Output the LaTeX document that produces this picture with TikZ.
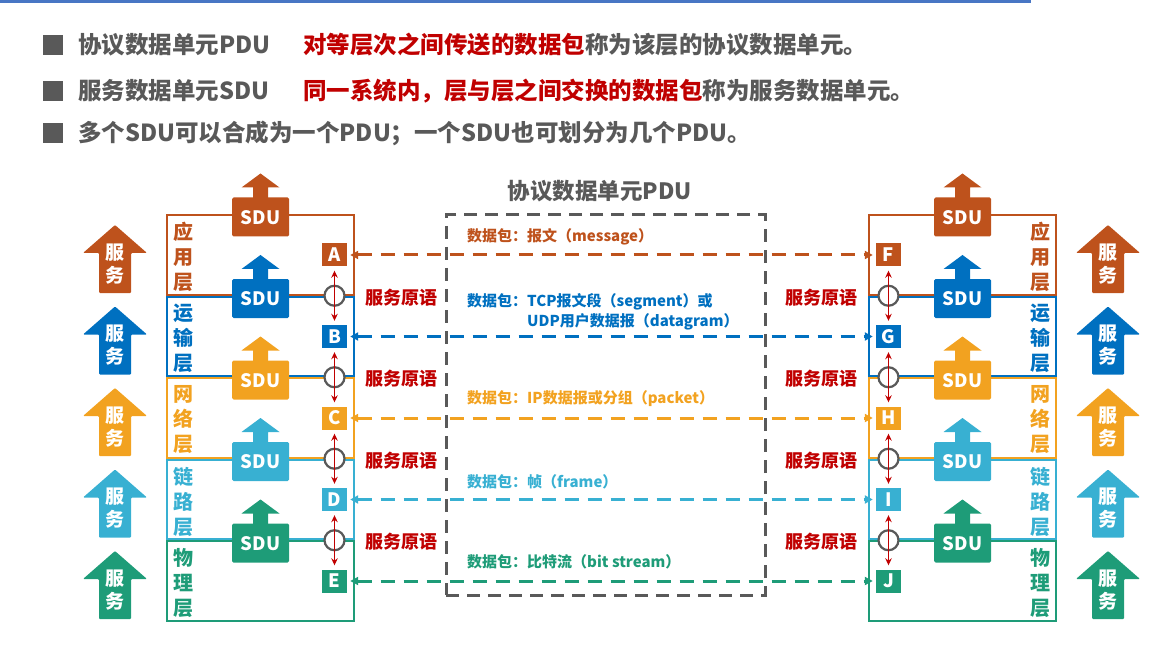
\documentclass[tikz,border=0pt]{standalone}
\usepackage{fontspec}
\setmainfont{Noto Sans CJK SC}
\usepackage{xcolor}
\usepackage{tikz}
\usetikzlibrary{arrows.meta, positioning}

\definecolor{appcol}{RGB}{190,82,28}
\definecolor{tracol}{RGB}{0,112,192}
\definecolor{netcol}{RGB}{242,162,32}
\definecolor{lnkcol}{RGB}{56,176,210}
\definecolor{phycol}{RGB}{30,156,120}
\definecolor{primred}{RGB}{192,0,0}
\definecolor{textgray}{RGB}{89,89,89}
\definecolor{barblue}{RGB}{72,118,196}

\tikzset{
  pics/sduup/.style={code={
    \fill[#1, rounded corners=1.5pt] (-28.5,-19.5) rectangle (28.5,19.5);
    \fill[#1] (-7.5,-19) -- (-7.5,-29.5) -- (-19,-29.5) -- (0,-43.5) -- (19,-29.5) -- (7.5,-29.5) -- (7.5,-19) -- cycle;
    \node[sdutext] (-t) at (0,0.5) {SDU};
  }},
  pics/svcup/.style={code={
    \fill[#1, rounded corners=1pt] (0,-34) -- (32,-6) -- (16,-6) -- (16,34) -- (-16,34) -- (-16,-6) -- (-32,-6) -- cycle;
    \node[svctext] (-t) at (0,5) {服\\务};
  }},
}

\begin{document}
\begin{tikzpicture}[x=1pt, y=-1pt,
    hdr/.style={anchor=west, inner sep=0pt, text=textgray, font=\fontsize{23.5}{27}\selectfont\bfseries},
    bullet/.style={fill=textgray, inner sep=0pt, minimum size=20},
    layerbox/.style={draw=#1, line width=2pt, inner sep=0pt, minimum width=187, minimum height=79.5},
    layername/.style={text=#1, align=center, inner sep=0pt, font=\fontsize{20}{25}\selectfont\bfseries},
    entity/.style={fill=#1, text=white, inner sep=0pt, minimum width=25, minimum height=23, font=\fontsize{18.5}{20}\selectfont\bfseries},
    sdutext/.style={text=white, inner sep=0pt, font=\fontsize{18.5}{20}\selectfont\bfseries},
    svctext/.style={text=white, align=center, inner sep=0pt, font=\fontsize{19}{23}\selectfont\bfseries},
    sap/.style={circle, draw=textgray, fill=white, line width=2.2pt, minimum size=20, inner sep=0pt},
    prim/.style={primred, line width=1.6pt, {Stealth[length=7pt,width=6.5pt]}-{Stealth[length=7pt,width=6.5pt]}, shorten <=4pt, shorten >=4pt},
    primtext/.style={text=primred, inner sep=0pt, font=\fontsize{18}{20}\selectfont\bfseries},
    pdu/.style={draw=#1, line width=3pt, dash pattern=on 14pt off 9pt, {Triangle[length=8pt,width=8pt]}-{Triangle[length=8pt,width=8pt]}, shorten <=3pt, shorten >=3pt},
    pdulabel/.style={text=#1, anchor=west, inner sep=0pt, font=\fontsize{15}{17}\selectfont\bfseries},
    pdubox/.style={draw=textgray, line width=3pt, dash pattern=on 13pt off 8pt, inner sep=0pt},
  ]
  \useasboundingbox (0,0) rectangle (1173,655);
  \fill[barblue] (0,0) rectangle (1031,3);

  % definitions at the top
  \node[bullet] (b1) at (53,45) {};
  \node[hdr] (h1) at (78,45) {协议数据单元PDU};
  \node[hdr] (h1d) at (303,45) {{\color{primred}对等层次之间传送的数据包}称为该层的协议数据单元。};
  \node[bullet] (b2) at (53,91) {};
  \node[hdr] (h2) at (78,91) {服务数据单元SDU};
  \node[hdr] (h2d) at (303,91) {{\color{primred}同一系统内，层与层之间交换的数据包}称为服务数据单元。};
  \node[bullet] (b3) at (53,133) {};
  \node[hdr] (h3) at (78,133) {多个SDU可以合成为一个PDU；一个SDU也可划分为几个PDU。};

  % peer protocol data units
  \node[hdr, anchor=center, font=\fontsize{22.5}{26}\selectfont\bfseries] (pdutitle) at (600,191) {协议数据单元PDU};
  \node[pdubox, minimum width=319, minimum height=380] (pduframe) at (605.5,405) {};

  \foreach \i/\lay/\col/\lt/\rt in {0/{应\\用\\层}/appcol/A/F, 1/{运\\输\\层}/tracol/B/G,
      2/{网\\络\\层}/netcol/C/H, 3/{链\\路\\层}/lnkcol/D/I, 4/{物\\理\\层}/phycol/E/J}{
    \pgfmathsetmacro\yt{215+81.5*\i}
    \node[layerbox=\col] (boxL\i) at (260.5,\yt+39.75) {};
    \node[layerbox=\col] (boxR\i) at (962.5,\yt+39.75) {};
    \node[layername=\col] (nameL\i) at (183,\yt+42) {\lay};
    \node[layername=\col] (nameR\i) at (1040,\yt+42) {\lay};
    \pic (sduL\i) at (260.5,\yt+2) {sduup=\col};
    \pic (sduR\i) at (962.5,\yt+2) {sduup=\col};
    \pic (svcL\i) at (115,\yt+44) {svcup=\col};
    \pic (svcR\i) at (1108,\yt+44) {svcup=\col};
    \node[entity=\col] (eL\i) at (334.5,\yt+40) {\lt};
    \node[entity=\col] (eR\i) at (888.5,\yt+40) {\rt};
    \draw[pdu=\col] (eL\i) -- (eR\i);
  }

  % service access points
  \foreach \i [evaluate=\i as \j using int(\i+1)] in {0,...,3}{
    \pgfmathsetmacro\yb{215+81.5*\i+80.75}
    \node[sap] (sapL\i) at (334.5,\yb) {};
    \node[sap] (sapR\i) at (888.5,\yb) {};
    \draw[prim] (eL\i) -- (eL\j);
    \draw[prim] (eR\i) -- (eR\j);
    \node[primtext] (pL\i) at (401,\yb+1.5) {服务原语};
    \node[primtext] (pR\i) at (821,\yb+1.5) {服务原语};
  }

  \node[pdulabel=appcol] (msg) at (467,237) {数据包：报文（message）};
  \node[pdulabel=tracol] (seg) at (467,302) {数据包：TCP报文段（segment）或};
  \node[pdulabel=tracol] (dgram) at (527,322) {UDP用户数据报（datagram）};
  \node[pdulabel=netcol] (pkt) at (467,399) {数据包：IP数据报或分组（packet）};
  \node[pdulabel=lnkcol] (frm) at (467,482) {数据包：帧（frame）};
  \node[pdulabel=phycol] (bits) at (467,562) {数据包：比特流（bit stream）};
\end{tikzpicture}
\end{document}
